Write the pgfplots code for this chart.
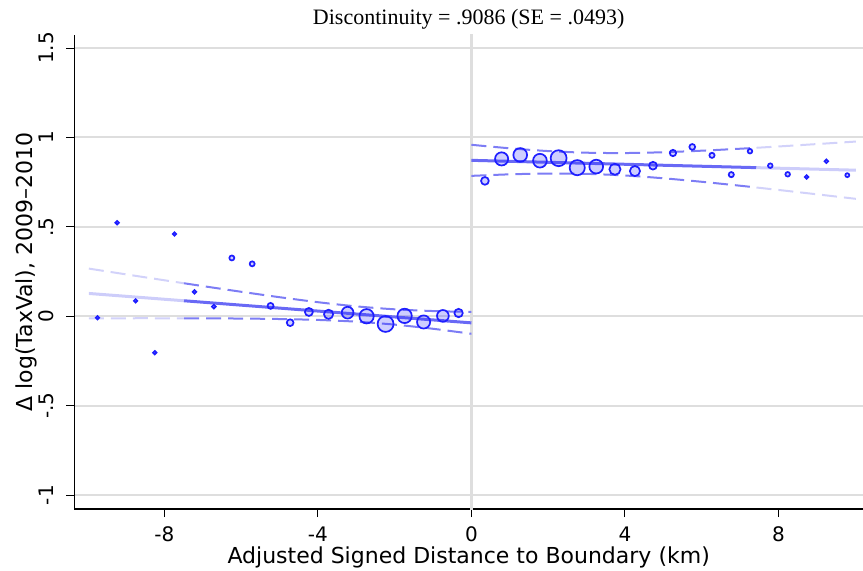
\documentclass[border=0pt]{standalone}
\usepackage{pgfplots}
\usepackage{pgfplotstable}
\pgfplotsset{compat=1.18}
\usepackage{fontspec}
\setmainfont{DejaVu Sans}
\newfontfamily\titlefont{Liberation Serif}
\definecolor{mkedge}{RGB}{30,30,255}
\definecolor{fitdark}{RGB}{105,105,245}
\definecolor{fitlight}{RGB}{205,205,250}
\definecolor{cidark}{RGB}{125,125,245}
\definecolor{cilight}{RGB}{210,210,250}
\definecolor{gridgray}{RGB}{222,222,222}

\pgfplotstableread{
x y r
-9.745 -0.008 1.7
-9.234 0.523 1.7
-8.754 0.086 1.7
-8.251 -0.204 1.7
-7.737 0.460 1.7
-7.216 0.136 1.8
-6.713 0.054 1.9
-6.244 0.326 2.5
-5.714 0.293 2.5
-5.235 0.058 3.0
-4.724 -0.036 3.4
-4.236 0.024 4.0
-3.723 0.011 4.6
-3.227 0.020 5.9
-2.732 0.000 7.2
-2.237 -0.043 8.0
-1.741 0.002 7.2
-1.246 -0.032 6.6
-0.743 0.002 5.9
-0.334 0.018 4.2
}\leftpts

\pgfplotstableread{
x y r
0.352 0.757 3.9
0.787 0.880 6.6
1.272 0.902 6.9
1.786 0.870 6.9
2.273 0.884 8.0
2.758 0.831 7.6
3.253 0.837 6.9
3.741 0.822 5.6
4.262 0.812 5.1
4.732 0.842 3.9
5.253 0.913 3.2
5.756 0.947 2.9
6.270 0.900 2.6
6.773 0.792 2.6
7.260 0.923 2.3
7.789 0.842 2.3
8.243 0.794 2.3
8.738 0.779 1.8
9.249 0.867 1.8
9.797 0.789 2.0
}\rightpts

\begin{document}
\begin{tikzpicture}
\path[use as bounding box] (-74.3bp,-62bp) rectangle (788.7bp,509bp);
\begin{axis}[
  at={(0,0)}, anchor=south west,
  scale only axis, width=788.7bp, height=474bp,
  xmin=-10.35, xmax=10.206, ymin=-1.078, ymax=1.573,
  axis lines*=left,
  axis line style={black, line width=1.1bp},
  xtick={-8,-4,0,4,8}, xticklabels={-8,-4,0,4,8},
  ytick={-1,-0.5,0,0.5,1,1.5}, yticklabels={-1,-.5,0,.5,1,1.5},
  tick align=outside, major tick length=8bp,
  tick style={black, line width=1bp},
  ymajorgrids, grid style={gridgray, line width=2bp},
  tick label style={font=\fontsize{20bp}{24bp}\selectfont},
  yticklabel style={rotate=90, anchor=south},
  yticklabel shift=9bp,
  xticklabel shift=6bp,
  label style={font=\fontsize{22bp}{26bp}\selectfont},
  xlabel={Adjusted Signed Distance to Boundary (km)},
  xlabel style={at={(axis description cs:0.5,0)}, anchor=base, yshift=-54bp},
  ylabel={Δ log(TaxVal), 2009–2010},
  ylabel style={at={(axis description cs:-0.0524,0.5)}, anchor=base},
  title={Discontinuity = .9086 (SE = .0493)},
  title style={font=\titlefont\fontsize{22bp}{26bp}\selectfont, at={(axis description cs:0.5,1)}, anchor=base, yshift=5bp},
  clip=true,
]
% vertical line at 0
\addplot[gridgray, line width=3bp] coordinates {(0,-1.2) (0,1.7)};

% left side fit and CI
\addplot[fitlight, line width=3bp] coordinates {(-9.97,0.1275) (-7.49,0.0866)};
\addplot[fitdark, line width=3bp] coordinates {(-7.49,0.0866) (0,-0.037)};
\addplot[cilight, line width=2bp, dash pattern=on 15bp off 7bp, smooth] coordinates {(-9.97,0.2665) (-9,0.2342) (-8,0.2012) (-7.49,0.1845)};
\addplot[cidark, line width=2bp, dash pattern=on 15bp off 7bp, smooth] coordinates {(-7.49,0.1845) (-7,0.1687) (-6,0.1369) (-5,0.1065) (-4,0.0786) (-3,0.0553) (-2,0.0388) (-1,0.0291) (0,0.024)};
\addplot[cilight, line width=2bp, dash pattern=on 15bp off 7bp, smooth] coordinates {(-9.97,-0.0115) (-9,-0.0112) (-8,-0.0112) (-7.49,-0.0113)};
\addplot[cidark, line width=2bp, dash pattern=on 15bp off 7bp, smooth] coordinates {(-7.49,-0.0113) (-7,-0.0117) (-6,-0.0129) (-5,-0.0155) (-4,-0.0206) (-3,-0.0303) (-2,-0.0468) (-1,-0.0701) (0,-0.098)};

% right side fit and CI
\addplot[fitdark, line width=3bp] coordinates {(0,0.872) (7.43,0.8311)};
\addplot[fitlight, line width=3bp] coordinates {(7.43,0.8311) (10.02,0.8169)};
\addplot[cidark, line width=2bp, dash pattern=on 15bp off 7bp, smooth] coordinates {(0,0.9589) (1,0.9393) (2,0.9238) (3,0.9147) (4,0.9128) (5,0.9173) (6,0.9259) (7,0.9369) (7.43,0.9422)};
\addplot[cilight, line width=2bp, dash pattern=on 15bp off 7bp, smooth] coordinates {(7.43,0.9422) (8,0.9495) (9,0.9629) (10.02,0.977)};
\addplot[cidark, line width=2bp, dash pattern=on 15bp off 7bp, smooth] coordinates {(0,0.7851) (1,0.7937) (2,0.7982) (3,0.7963) (4,0.7872) (5,0.7717) (6,0.7521) (7,0.7301) (7.43,0.72)};
\addplot[cilight, line width=2bp, dash pattern=on 15bp off 7bp, smooth] coordinates {(7.43,0.72) (8,0.7065) (9,0.6821) (10.02,0.6567)};

% markers
\addplot[scatter, only marks, mark=*, point meta=explicit,
  scatter/use mapped color={draw=mkedge, fill=mkedge, fill opacity=0.22},
  mark options={line width=1.7bp},
  visualization depends on={\thisrow{r}\as\rad},
  scatter/@pre marker code/.append style={/tikz/mark size=\rad}]
  table[x=x, y=y, meta=r] \leftpts;
\addplot[scatter, only marks, mark=*, point meta=explicit,
  scatter/use mapped color={draw=mkedge, fill=mkedge, fill opacity=0.22},
  mark options={line width=1.7bp},
  visualization depends on={\thisrow{r}\as\rad},
  scatter/@pre marker code/.append style={/tikz/mark size=\rad}]
  table[x=x, y=y, meta=r] \rightpts;
\end{axis}
\end{tikzpicture}
\end{document}
